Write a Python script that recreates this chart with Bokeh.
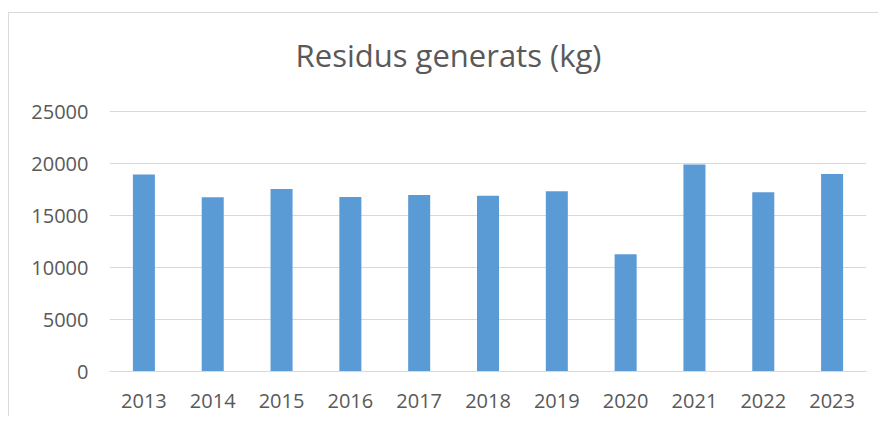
from bokeh.plotting import figure
from bokeh.models import Range1d, FactorRange, FixedTicker, ColumnDataSource, Label
from bokeh.embed import file_html
from bokeh.resources import INLINE

years = ["2013", "2014", "2015", "2016", "2017", "2018", "2019", "2020", "2021", "2022", "2023"]
residus = [18950, 16760, 17560, 16790, 16960, 16890, 17340, 11270, 19910, 17240, 18980]
y_ticks = [0, 5000, 10000, 15000, 20000, 25000]
title_text = "Residus generats (kg)"

FONT = "Open Sans"
TXT = "#595959"

# frame spans 358 px; the 0..25000 scale occupies the lower 260 px, the rest holds the title
FRAME_H = 358
SCALE_H = 260

src = ColumnDataSource(data=dict(year=years, kg=residus))

p = figure(
    x_range=FactorRange(*years, range_padding=0),
    y_range=Range1d(0, y_ticks[-1] * FRAME_H / SCALE_H),
    width=870, height=404,
    min_border_left=100, min_border_right=13,
    min_border_top=0, min_border_bottom=46,
    output_backend="svg", toolbar_location=None,
)
p.styles = {"margin-top": "12px", "margin-left": "8px",
            "border-left": "1px solid #d9d9d9", "border-top": "1px solid #d9d9d9"}

p.vbar(x="year", top="kg", width=0.32, source=src, fill_color="#5b9bd5", line_color=None)

title = Label(text=title_text, x=339, y=317, x_units="screen", y_units="screen",
              text_align="center", text_baseline="alphabetic",
              text_font=FONT, text_font_size="31px", text_color=TXT)
p.add_layout(title)

p.outline_line_color = None
p.background_fill_color = "white"
p.border_fill_color = "white"

p.xgrid.grid_line_color = None
p.ygrid.grid_line_color = "#d9d9d9"
p.ygrid.grid_line_width = 1

p.yaxis.ticker = FixedTicker(ticks=y_ticks)
p.yaxis.axis_line_color = None
p.yaxis.major_tick_line_color = None
p.yaxis.minor_tick_line_color = None
p.yaxis.major_tick_in = 0
p.yaxis.major_tick_out = 0
p.yaxis.major_label_standoff = 21
p.yaxis.major_label_text_font = FONT
p.yaxis.major_label_text_font_size = "20px"
p.yaxis.major_label_text_color = TXT

p.xaxis.axis_line_color = "#d9d9d9"
p.xaxis.axis_line_width = 1
p.xaxis.major_tick_line_color = None
p.xaxis.minor_tick_line_color = None
p.xaxis.major_tick_in = 0
p.xaxis.major_tick_out = 0
p.xaxis.major_label_standoff = 22
p.xaxis.major_label_text_font = FONT
p.xaxis.major_label_text_font_size = "20px"
p.xaxis.major_label_text_color = TXT

open("out.html", "w").write(file_html(p, INLINE))
